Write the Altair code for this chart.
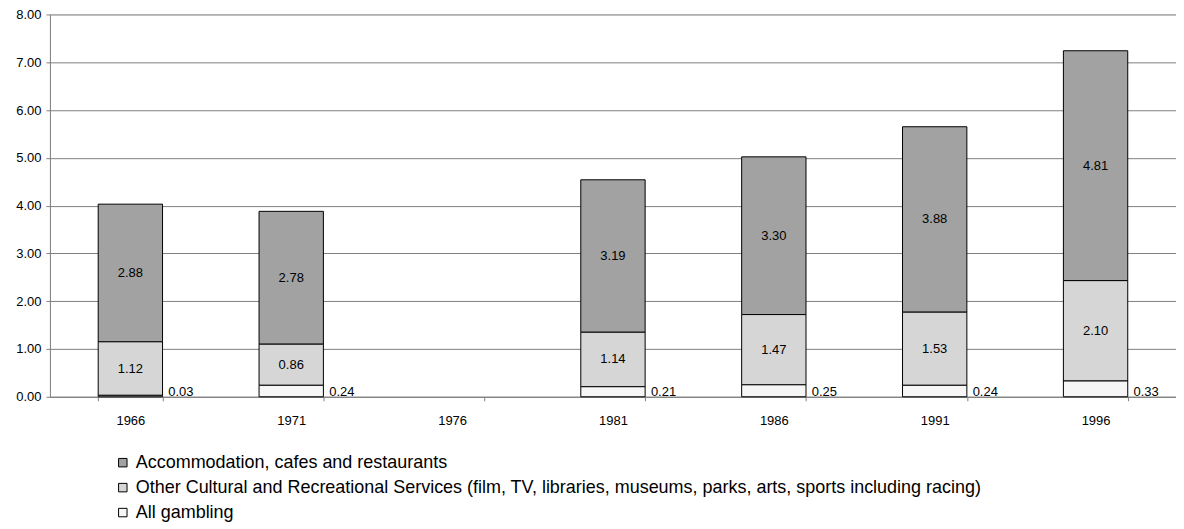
import altair as alt
import pandas as pd

years = ["1966", "1971", "1976", "1981", "1986", "1991", "1996"]
gambling = [0.03, 0.24, None, 0.21, 0.25, 0.24, 0.33]
other = [1.12, 0.86, None, 1.14, 1.47, 1.53, 2.10]
accommodation = [2.88, 2.78, None, 3.19, 3.30, 3.88, 4.81]
series = [
    "Accommodation, cafes and restaurants",
    "Other Cultural and Recreational Services (film, TV, libraries, museums, parks, arts, sports including racing)",
    "All gambling",
]
fills = ["#a2a2a2", "#d6d6d6", "#f6f6f6"]
y_ticks = [0, 1, 2, 3, 4, 5, 6, 7, 8]

rows = []
for i, yr in enumerate(years):
    for k, (name, vals) in enumerate(zip(series, [accommodation, other, gambling])):
        if vals[i] is not None:
            rows.append({"year": yr, "series": name, "value": vals[i], "stack": 2 - k})
df = pd.DataFrame(rows)

FONT = "Liberation Sans"
xscale = alt.Scale(domain=years, paddingInner=0.6, paddingOuter=0.3)
yscale = alt.Scale(domain=[0, 8])

x_enc = alt.X(
    "year:N",
    scale=xscale,
    sort=years,
    axis=alt.Axis(
        title=None, labelAngle=0, tickBand="extent", grid=False,
        domainColor="#808080", tickColor="#808080", tickSize=4,
        labelPadding=14, labelFontSize=13, labelFont=FONT, labelColor="black",
    ),
)

bars = alt.Chart(df).mark_bar(stroke="black", strokeWidth=1, opacity=1).encode(
    x=x_enc,
    y=alt.Y(
        "value:Q", stack="zero", scale=yscale,
        axis=alt.Axis(
            title=None, values=y_ticks, format=".2f", grid=True,
            gridColor="#808080", domainColor="#808080", tickColor="#808080",
            tickSize=4, labelPadding=5, labelFontSize=13, labelFont=FONT,
            labelColor="black", minExtent=42, maxExtent=42,
        ),
    ),
    color=alt.Color(
        "series:N",
        scale=alt.Scale(domain=series, range=fills),
        legend=alt.Legend(
            title=None, orient="none", legendX=64, legendY=440,
            direction="vertical", symbolType="square", symbolSize=72,
            symbolStrokeColor="black", symbolStrokeWidth=1, symbolOpacity=1,
            labelFontSize=18, labelFont=FONT, labelColor="black",
            labelLimit=2000, rowPadding=7, labelOffset=4, padding=0,
        ),
    ),
    order=alt.Order("stack:Q", sort="ascending"),
)

stacked = alt.Chart(df).transform_stack(
    stack="value", groupby=["year"], as_=["y0", "y1"],
    sort=[alt.SortField("stack", order="ascending")],
).transform_calculate(mid="(datum.y0 + datum.y1) / 2")

inner = stacked.transform_filter(alt.datum.series != "All gambling").mark_text(
    fontSize=13, font=FONT, color="black", baseline="middle", align="center"
).encode(
    x=alt.X("year:N", scale=xscale, sort=years),
    y=alt.Y("mid:Q", scale=yscale),
    text=alt.Text("value:Q", format=".2f"),
)

outer = alt.Chart(df).transform_filter(alt.datum.series == "All gambling").transform_calculate(
    base="0"
).mark_text(
    fontSize=13, font=FONT, color="black", baseline="alphabetic", align="left", dx=38, dy=-1
).encode(
    x=alt.X("year:N", scale=xscale, sort=years),
    y=alt.Y("base:Q", scale=yscale),
    text=alt.Text("value:Q", format=".2f"),
)

chart = alt.layer(bars, inner, outer).properties(
    width=1128, height=383,
    padding={"left": 0, "top": 0, "right": 0, "bottom": 0},
).configure_view(stroke=None).configure(background="white")

chart.save("out.html", embed_options={"renderer": "svg", "actions": False})
